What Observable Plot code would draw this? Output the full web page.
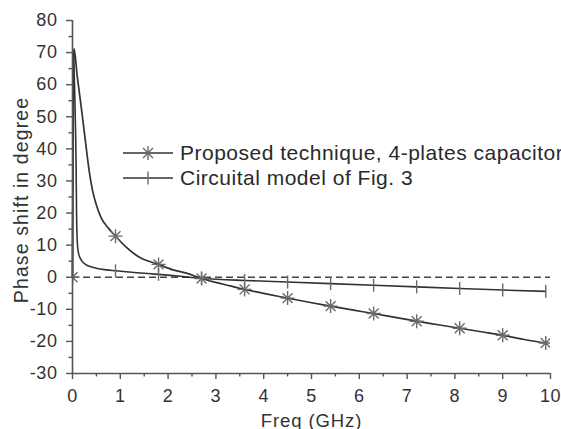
<!DOCTYPE html>
<html><head><meta charset="utf-8">
<script src="https://cdn.jsdelivr.net/npm/d3@7"></script>
<script src="https://cdn.jsdelivr.net/npm/@observablehq/plot@0.6"></script>
<style>
html,body{margin:0;padding:0;background:#fff;}
#wrap{position:relative;width:561px;height:429px;overflow:hidden;}
.legend{position:absolute;left:123px;top:140px;font-family:"Liberation Sans",Arial,sans-serif;font-size:21px;color:#2a2a2a;letter-spacing:0.5px;white-space:nowrap;}
.row{display:flex;align-items:center;height:25px;}
.row svg{margin-right:7px;flex:none;}
</style></head>
<body><div id="wrap"></div>
<script>
// ---- data ----
const seriesNames = ["Proposed technique, 4-plates capacitor", "Circuital model of Fig. 3"];

const propFreq  = [0, 0.03, 0.1, 0.2, 0.29, 0.35, 0.42, 0.5, 0.6, 0.75, 0.9, 1.1, 1.4, 1.8, 2.1, 2.4, 2.7, 3.0, 3.3, 3.6, 4.05, 4.5, 4.95, 5.4, 5.85, 6.3, 6.75, 7.2, 7.65, 8.1, 8.55, 9.0, 9.45, 9.9];
const propPhase = [0, 71.3, 62.5, 51, 40, 33, 27, 22.5, 18.5, 15.3, 12.8, 9.7, 6.2, 4.0, 2.3, 1.2, -0.4, -1.6, -2.7, -3.8, -5.2, -6.5, -7.8, -9.0, -10.2, -11.3, -12.5, -13.7, -14.8, -15.9, -17.0, -18.1, -19.4, -20.5];

const circFreq  = [0, 0.015, 0.05, 0.075, 0.085, 0.1, 0.13, 0.2, 0.27, 0.4, 0.52, 0.7, 0.9, 1.35, 1.8, 2.25, 2.7, 3.6, 4.5, 5.4, 6.3, 7.2, 8.1, 9.0, 9.9];
const circPhase = [0, 71, 55, 35, 20, 11, 7.2, 5.0, 4.0, 3.2, 2.7, 2.3, 2.0, 1.4, 0.9, 0.3, -0.3, -1.0, -1.5, -2.0, -2.5, -3.0, -3.5, -4.0, -4.4];

const markerFreq      = [0, 0.9, 1.8, 2.7, 3.6, 4.5, 5.4, 6.3, 7.2, 8.1, 9.0, 9.9];
const propMarkerPhase = [0, 12.8, 4.0, -0.4, -3.8, -6.5, -9.0, -11.3, -13.7, -15.9, -18.1, -20.5];
const circMarkerPhase = [0, 2.0, 0.9, -0.3, -1.0, -1.5, -2.0, -2.5, -3.0, -3.5, -4.0, -4.4];

const xTicks = [0, 1, 2, 3, 4, 5, 6, 7, 8, 9, 10];
const xMinorTicks = [0.5, 1.5, 2.5, 3.5, 4.5, 5.5, 6.5, 7.5, 8.5, 9.5];
const yTicks = [-30, -20, -10, 0, 10, 20, 30, 40, 50, 60, 70, 80];
const yMinorTicks = [-25, -15, -5, 5, 15, 25, 35, 45, 55, 65, 75];
const xTitle = "Freq (GHz)";
const yTitle = "Phase shift in degree";

// ---- tables ----
const propLine = propFreq.map((f, i) => ({f, v: propPhase[i]}));
const circLine = circFreq.map((f, i) => ({f, v: circPhase[i]}));
const propMarks = markerFreq.map((f, i) => ({f, v: propMarkerPhase[i]}));
const circMarks = markerFreq.map((f, i) => ({f, v: circMarkerPhase[i]}));

// ---- custom symbols ----
const star8 = {draw(ctx, size) {
  const r = Math.sqrt(size / Math.PI), d = r * Math.SQRT1_2;
  ctx.moveTo(0, -r); ctx.lineTo(0, r);
  ctx.moveTo(-r, 0); ctx.lineTo(r, 0);
  ctx.moveTo(-d, -d); ctx.lineTo(d, d);
  ctx.moveTo(-d, d); ctx.lineTo(d, -d);
}};
const vtick = {draw(ctx, size) {
  const r = Math.sqrt(size / Math.PI);
  ctx.moveTo(0, -r); ctx.lineTo(0, r);
}};

const lineColor = "#333";
const markColor = "#6a6a6a";
const axisColor = "#555";

const chart = Plot.plot({
  width: 561, height: 429,
  marginLeft: 72, marginRight: 11, marginTop: 20, marginBottom: 56,
  x: {domain: [0, 10]},
  y: {domain: [-30, 80]},
  style: {fontFamily: "'Liberation Sans', Arial, sans-serif", fontSize: "18px", color: "#333", background: "#fff"},
  marks: [
    Plot.ruleY([0], {stroke: "#444", strokeWidth: 1.5, strokeDasharray: "7,4"}),
    Plot.line(circLine, {x: "f", y: "v", stroke: lineColor, strokeWidth: 1.6, curve: "monotone-x"}),
    Plot.line(propLine, {x: "f", y: "v", stroke: lineColor, strokeWidth: 1.7, curve: "monotone-x"}),
    Plot.dot(circMarks, {x: "f", y: "v", symbol: vtick, r: 6.5, stroke: markColor, fill: "none", strokeWidth: 1.4, clip: true}),
    Plot.dot(propMarks, {x: "f", y: "v", symbol: star8, r: 7, stroke: markColor, fill: "none", strokeWidth: 1.4, clip: true}),
    Plot.ruleX([0], {stroke: axisColor, strokeWidth: 1.6}),
    Plot.ruleY([-30], {stroke: axisColor, strokeWidth: 1.6}),
    Plot.axisY(yTicks, {tickSize: 6, tickPadding: 9, stroke: axisColor, strokeWidth: 1.4, label: null, tickFormat: d => String(d)}),
    Plot.axisY(yMinorTicks, {tickSize: 3.5, stroke: axisColor, strokeWidth: 1.4, label: null, text: null}),
    Plot.axisX(xTicks, {tickSize: 6, tickPadding: 10, stroke: axisColor, strokeWidth: 1.4, label: null}),
    Plot.axisX(xMinorTicks, {tickSize: 3.5, stroke: axisColor, strokeWidth: 1.4, label: null, text: null}),
    Plot.text([xTitle], {frameAnchor: "bottom", dy: 53, lineAnchor: "bottom", fontSize: 18.5, fill: "#333"}),
    Plot.text([yTitle], {frameAnchor: "left", textAnchor: "middle", dx: -51, dy: 3, rotate: -90, lineAnchor: "middle", fontSize: 19.5, fill: "#333"})
  ]
});

// letter spacing to match the wide lettering of the reference
d3.select(chart).selectAll("text").each(function () {
  const t = this.textContent;
  if (t === xTitle) this.setAttribute("letter-spacing", "0.9px");
  else if (t === yTitle) this.setAttribute("letter-spacing", "1.1px");
});
d3.select(chart).selectAll("g[aria-label='y-axis tick label'] text, g[aria-label='x-axis tick label'] text").attr("letter-spacing", "0.6px");

const wrap = document.getElementById("wrap");
wrap.appendChild(chart);

// ---- legend (inside plot area, as in the reference) ----
const legend = document.createElement("div");
legend.className = "legend";
const symbols = [star8, vtick];
seriesNames.forEach((name, i) => {
  const row = document.createElement("div");
  row.className = "row";
  const s = d3.create("svg").attr("width", 50).attr("height", 20);
  s.append("line").attr("x1", 0).attr("x2", 50).attr("y1", 10).attr("y2", 10).attr("stroke", lineColor).attr("stroke-width", 1.7);
  s.append("path").attr("transform", "translate(25,10)")
    .attr("d", d3.symbol(symbols[i], Math.PI * (i === 0 ? 49 : 42))())
    .attr("stroke", markColor).attr("fill", "none").attr("stroke-width", 1.4);
  row.appendChild(s.node());
  const span = document.createElement("span");
  span.textContent = name;
  row.appendChild(span);
  legend.appendChild(row);
});
wrap.appendChild(legend);
</script>
</body></html>
